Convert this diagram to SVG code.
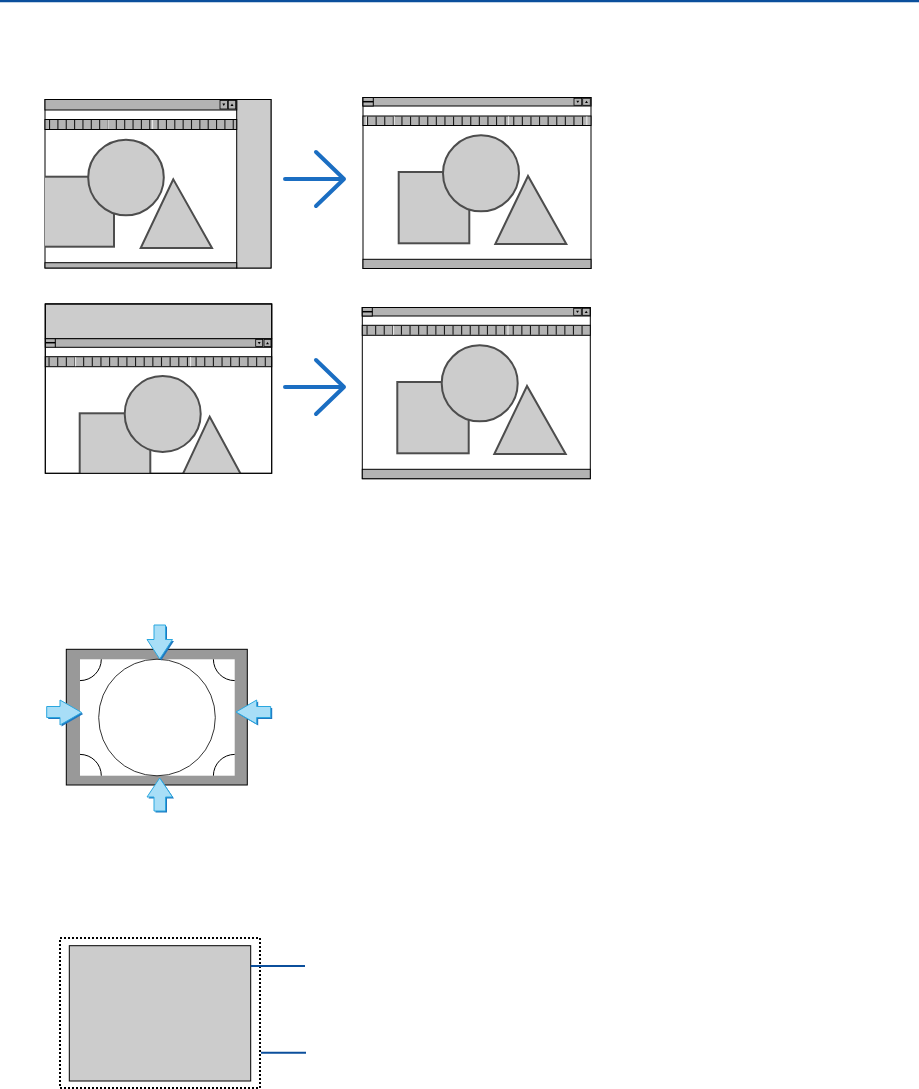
<svg xmlns="http://www.w3.org/2000/svg" width="919" height="1089" viewBox="0 0 919 1089">
<style>
.frame{fill:#fff;stroke:#000;stroke-width:1}
.bar{fill:#b3b3b3;stroke:#000;stroke-width:1}
.grayarea{fill:#ccc;stroke:#000;stroke-width:1}
.shape{fill:#ccc;stroke:#4d4d4d;stroke-width:2}
.tb{fill:#b3b3b3;stroke:#000;stroke-width:1}
.tbsep{stroke:#1a1a1a;fill:none}
.gsep{stroke:#e6e6e6;stroke-width:1.2}
.btn{fill:#b3b3b3;stroke:#000;stroke-width:0.8}
.glyph{fill:#000}
.barrow{fill:none;stroke:#1b6ec2;stroke-width:4;stroke-linecap:round;stroke-linejoin:round}
.arr{fill:#a8def7;stroke:#2aa7df;stroke-width:1}
.arrsh{fill:#1f78c0}
.thin{fill:none;stroke:#000;stroke-width:1}
.lead{stroke:#0b4f9c;stroke-width:2;fill:none}
</style>
<defs>
<clipPath id="c1"><rect x="45" y="129.5" width="191.7" height="133"/></clipPath>
<clipPath id="c3"><rect x="45.3" y="366.7" width="226.4" height="106.6"/></clipPath>
</defs>

<line x1="0" y1="1" x2="919" y2="1" stroke="#0b4f9c" stroke-width="2.5"/>

<!-- Window 1 (top-left, shifted) -->
<g id="win1">
<rect class="frame" x="45" y="99.5" width="226" height="168.5"/>
<rect class="grayarea" x="236.7" y="99.5" width="34.3" height="168.5"/>
<rect class="bar" x="45" y="99.5" width="191.7" height="10.5"/>
<rect class="btn" x="220" y="100.5" width="7.5" height="8.5"/>
<rect class="btn" x="228.3" y="100.5" width="7.4" height="8.5"/>
<polygon class="glyph" points="222.3,103.5 225.3,103.5 223.8,106"/>
<polygon class="glyph" points="230.5,106 233.5,106 232,103.5"/>
<rect class="tb" x="45" y="119.5" width="191.7" height="10"/>
<line class="tbsep" x1="49" y1="124.5" x2="236" y2="124.5" stroke-width="9" stroke-dasharray="1.1 7.25"/>
<line class="gsep" x1="108.2" y1="120" x2="108.2" y2="129"/>
<line class="gsep" x1="152.5" y1="120" x2="152.5" y2="129"/>
<g clip-path="url(#c1)">
<rect class="shape" x="40" y="176.7" width="74" height="70"/>
<circle class="shape" cx="126" cy="177.5" r="37.8"/>
<polygon class="shape" points="173.3,179.3 140.7,248 212,248"/>
</g>
<rect class="bar" x="45" y="262.7" width="191.7" height="5.3"/>
</g>

<!-- Window 2 (top-right) -->
<g id="win2">
<rect class="frame" x="363" y="97.5" width="228" height="171"/>
<rect class="bar" x="363" y="97.5" width="228" height="8.5"/>
<rect x="363" y="97.5" width="10.3" height="8.5" fill="#b3b3b3" stroke="#000" stroke-width="1"/>
<line x1="363" y1="101.7" x2="373.3" y2="101.7" stroke="#000" stroke-width="1.5"/>
<rect class="btn" x="574" y="98.3" width="7.7" height="7"/>
<rect class="btn" x="582.7" y="98.3" width="7.6" height="7"/>
<polygon class="glyph" points="576.3,100.8 579.3,100.8 577.8,103"/>
<polygon class="glyph" points="585,103 588,103 586.5,100.8"/>
<rect class="tb" x="363" y="116" width="228" height="9.5"/>
<line class="tbsep" x1="367" y1="120.75" x2="586" y2="120.75" stroke-width="8.5" stroke-dasharray="1.1 7.5"/>
<line class="gsep" x1="366.3" y1="116.5" x2="366.3" y2="125"/>
<line class="gsep" x1="394.3" y1="116.5" x2="394.3" y2="125"/>
<line class="gsep" x1="508.5" y1="116.5" x2="508.5" y2="125"/>
<line class="gsep" x1="586.8" y1="116.5" x2="586.8" y2="125"/>
<rect class="shape" x="398.7" y="172" width="70.6" height="71.3"/>
<circle class="shape" cx="481" cy="173.3" r="38"/>
<polygon class="shape" points="528,176 495.3,244 566.3,244"/>
<rect class="bar" x="363" y="259.3" width="228" height="9.2"/>
</g>

<!-- Window 3 (bottom-left, shifted) -->
<g id="win3">
<rect class="frame" x="45.3" y="304" width="226.4" height="169.3"/>
<rect class="grayarea" x="45.3" y="304" width="226.4" height="34.7"/>
<rect class="bar" x="45.3" y="338.7" width="226.4" height="8.6"/>
<line x1="45.3" y1="342.7" x2="55.3" y2="342.7" stroke="#000" stroke-width="1.5"/>
<line x1="55.3" y1="338.7" x2="55.3" y2="347.3" stroke="#000" stroke-width="1"/>
<rect class="btn" x="255.7" y="339.5" width="7" height="7"/>
<rect class="btn" x="264" y="339.5" width="7" height="7"/>
<polygon class="glyph" points="257.7,342 260.7,342 259.2,344.3"/>
<polygon class="glyph" points="266,344.3 269,344.3 267.5,342"/>
<rect class="tb" x="45.3" y="356.7" width="226.4" height="10"/>
<line class="tbsep" x1="48.5" y1="361.7" x2="270" y2="361.7" stroke-width="9" stroke-dasharray="1.1 7.55"/>
<line class="gsep" x1="75.5" y1="357.2" x2="75.5" y2="366.2"/>
<line class="gsep" x1="190.5" y1="357.2" x2="190.5" y2="366.2"/>
<g clip-path="url(#c3)">
<rect class="shape" x="79.7" y="413.3" width="70.6" height="75"/>
<circle class="shape" cx="162.7" cy="414" r="38"/>
<polygon class="shape" points="209.7,416.7 174,493 251,493"/>
</g>
<rect x="45.3" y="304" width="226.4" height="169.3" fill="none" stroke="#000" stroke-width="1"/>
</g>

<!-- Window 4 (bottom-right) -->
<g id="win4">
<rect class="frame" x="362.3" y="307.5" width="228" height="171.2"/>
<rect class="bar" x="362.3" y="307.5" width="228" height="8.5"/>
<rect x="362.3" y="307.5" width="10" height="8.5" fill="#b3b3b3" stroke="#000" stroke-width="1"/>
<line x1="362.3" y1="311.7" x2="372.3" y2="311.7" stroke="#000" stroke-width="1.5"/>
<rect class="btn" x="573.7" y="308.3" width="7.6" height="7"/>
<rect class="btn" x="582.3" y="308.3" width="7.7" height="7"/>
<polygon class="glyph" points="576,310.8 579,310.8 577.5,313"/>
<polygon class="glyph" points="584.7,313 587.7,313 586.2,310.8"/>
<rect class="tb" x="362.3" y="325.3" width="228" height="10"/>
<line class="tbsep" x1="366.5" y1="330.3" x2="586" y2="330.3" stroke-width="9" stroke-dasharray="1.1 7.5"/>
<line class="gsep" x1="393.5" y1="325.8" x2="393.5" y2="334.8"/>
<line class="gsep" x1="508" y1="325.8" x2="508" y2="334.8"/>
<rect class="shape" x="397.3" y="382" width="71.4" height="71.3"/>
<circle class="shape" cx="479.7" cy="383.3" r="38"/>
<polygon class="shape" points="527,386 494.3,454 565.7,454"/>
<rect class="bar" x="362.3" y="469.3" width="228" height="9.4"/>
</g>

<!-- Connectors -->
<g id="connectors">
<path class="barrow" d="M285,179 H344 M316,152 L344,179 L316,206"/>
<path class="barrow" d="M285,387 H344 M316,360 L344,387 L316,414"/>
</g>

<!-- Screen with border and inward arrows -->
<g id="screen">
<rect x="66.3" y="649.3" width="181" height="135.7" fill="#999" stroke="#000" stroke-width="1"/>
<rect x="80" y="659.3" width="154.7" height="116.4" fill="#fff"/>
<circle cx="157" cy="717.5" r="58.3" fill="none" stroke="#000" stroke-width="0.8"/>
<path class="thin" stroke-width="0.8" d="M80,680.6 A21.3,21.3 0 0 0 101.3,659.3 M234.7,680.6 A21.3,21.3 0 0 1 213.4,659.3 M80,754.4 A21.3,21.3 0 0 1 101.3,775.7 M234.7,754.4 A21.3,21.3 0 0 0 213.4,775.7"/>
</g>
<g id="arrow-top">
<polygon class="arrsh" points="155.5,626.5 167,626.5 167,641 174,641 161.2,660.5 148.5,641 155.5,641"/>
<polygon class="arr" points="154,625 165.5,625 165.5,639.5 172.5,639.5 159.7,659 147,639.5 154,639.5"/>
</g>
<g id="arrow-bottom">
<polygon class="arrsh" points="161.2,779.5 174,798.5 167,798.5 167,812.5 155.5,812.5 155.5,798.5 148.5,798.5"/>
<polygon class="arr" points="159.7,778 172.5,797 165.5,797 165.5,811 154,811 154,797 147,797"/>
</g>
<g id="arrow-left">
<polygon class="arrsh" points="48.2,708 61.5,708 61.5,701.5 83.2,714 61.5,726.5 61.5,719 48.2,719"/>
<polygon class="arr" points="46.7,706.5 60,706.5 60,700 81.7,712.5 60,725 60,717.5 46.7,717.5"/>
</g>
<g id="arrow-right">
<polygon class="arrsh" points="237.5,713.5 258.2,701.5 258.2,708 272.2,708 272.2,719 258.2,719 258.2,725.5"/>
<polygon class="arr" points="236,712 256.7,700 256.7,706.5 270.7,706.5 270.7,717.5 256.7,717.5 256.7,724"/>
</g>

<!-- Bottom: dotted outline and gray area -->
<g id="area">
<rect x="60" y="938" width="200" height="150" fill="none" stroke="#000" stroke-width="2" stroke-dasharray="2 2"/>
<rect x="69.3" y="945.7" width="181.4" height="135.3" fill="#ccc" stroke="#000" stroke-width="1"/>
</g>
<g id="leaders">
<line class="lead" x1="250.7" y1="966" x2="305" y2="966"/>
<line class="lead" x1="261" y1="1052.7" x2="306" y2="1052.7"/>
</g>
</svg>
